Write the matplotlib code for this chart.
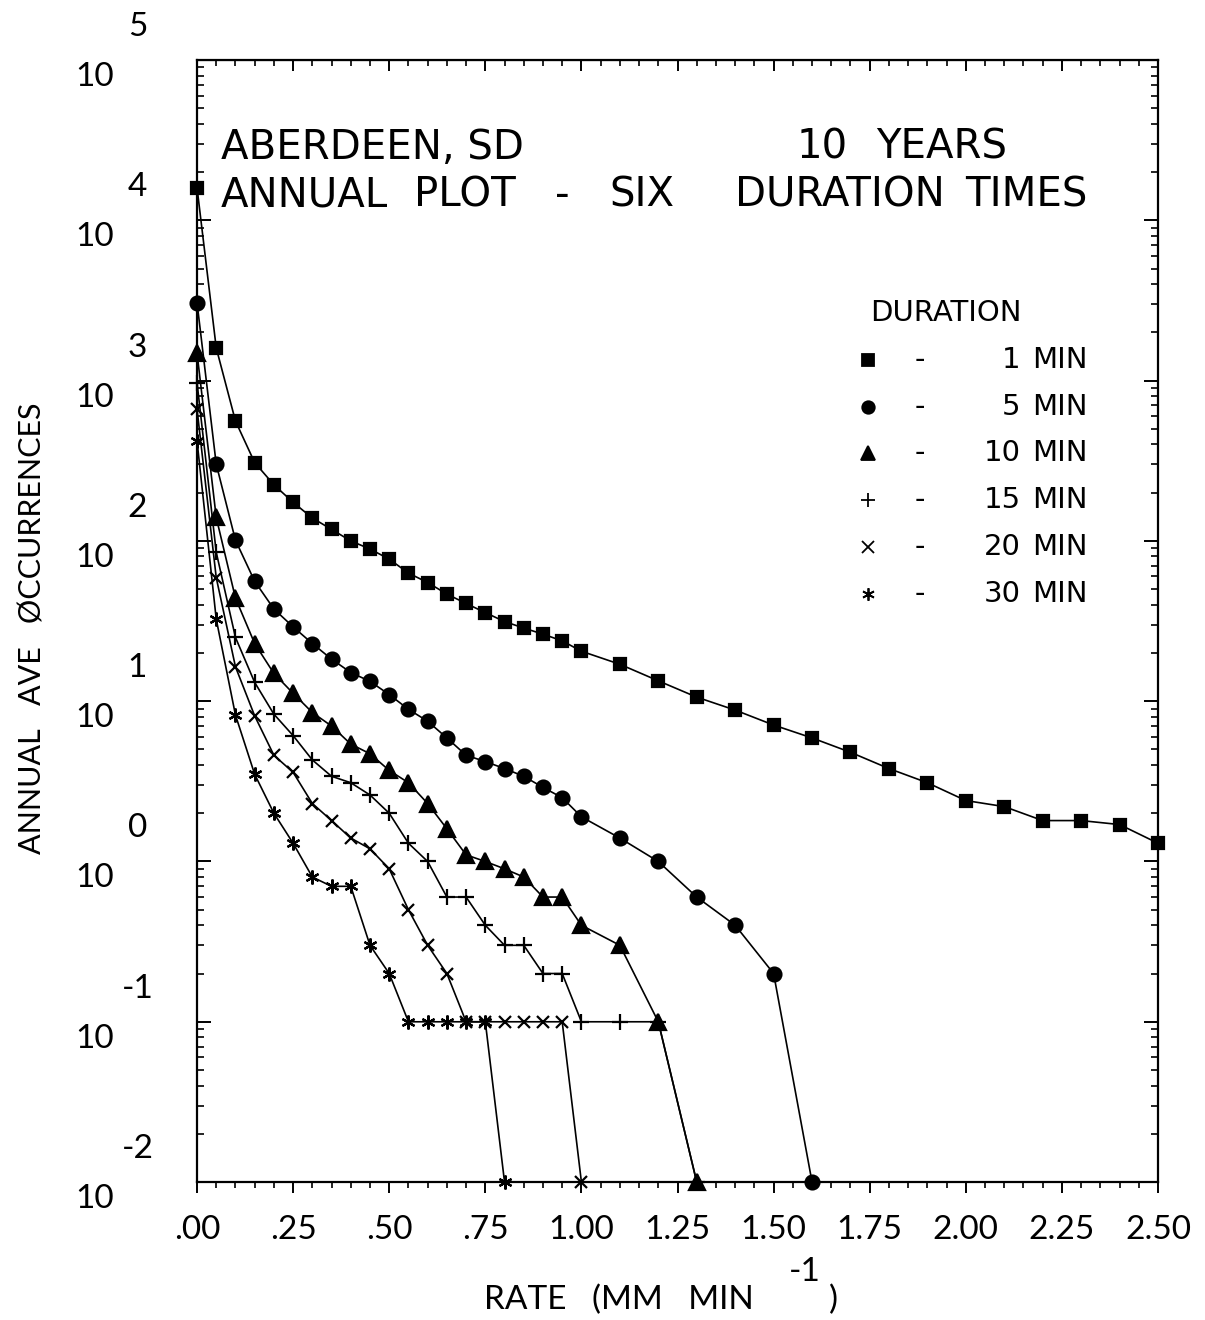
import numpy as np
import matplotlib.pyplot as plt
from matplotlib.ticker import MultipleLocator, LogLocator, NullFormatter
from matplotlib.transforms import ScaledTranslation

# rate grid (mm/min) - 0.05 steps up to 1.0, then 0.1 steps
rate = [0.00, 0.05, 0.10, 0.15, 0.20, 0.25, 0.30, 0.35, 0.40, 0.45, 0.50,
        0.55, 0.60, 0.65, 0.70, 0.75, 0.80, 0.85, 0.90, 0.95, 1.00,
        1.10, 1.20, 1.30, 1.40, 1.50, 1.60, 1.70, 1.80, 1.90, 2.00,
        2.10, 2.20, 2.30, 2.40, 2.50]

# annual average occurrences per duration (0 = none, drawn on the floor)
occ_1min = [16000, 1600, 560, 308, 224, 174, 139, 118, 100, 89, 77, 63, 55,
            46.6, 40.7, 35.7, 31.4, 28.6, 26.2, 23.8, 20.5,
            17.0, 13.4, 10.6, 8.8, 7.1, 5.9, 4.8, 3.8, 3.1, 2.4, 2.2, 1.8,
            1.8, 1.7, 1.3]
occ_5min = [3070, 301, 101, 56, 37.6, 29.1, 22.9, 18.3, 15.1, 13.3, 11.0,
            8.9, 7.5, 5.9, 4.6, 4.2, 3.8, 3.4, 2.9, 2.5, 1.9,
            1.4, 1.0, 0.6, 0.4, 0.2, 0]
occ_10min = [1490, 140, 44, 22.9, 14.9, 11.2, 8.5, 7.0, 5.4, 4.7, 3.7,
             3.1, 2.3, 1.6, 1.1, 1.0, 0.9, 0.8, 0.6, 0.6, 0.4,
             0.3, 0.1, 0]
occ_15min = [973, 85, 25, 13.1, 8.3, 6.1, 4.3, 3.4, 3.1, 2.6, 2.0,
             1.3, 1.0, 0.6, 0.6, 0.4, 0.3, 0.3, 0.2, 0.2, 0.1,
             0.1, 0.1, 0]
occ_20min = [664, 59, 16.4, 8.1, 4.6, 3.6, 2.3, 1.8, 1.4, 1.2, 0.9,
             0.5, 0.3, 0.2, 0.1, 0.1, 0.1, 0.1, 0.1, 0.1, 0]
occ_30min = [421, 32.5, 8.2, 3.5, 2.0, 1.3, 0.8, 0.7, 0.7, 0.3, 0.2,
             0.1, 0.1, 0.1, 0.1, 0.1, 0]

durations = ['1', '5', '10', '15', '20', '30']
series = [occ_1min, occ_5min, occ_10min, occ_15min, occ_20min, occ_30min]
markers = ['s', 'o', '^', '+', 'x', (6, 2, 0)]
msizes = [9, 10, 11, 11, 9, 10]

x_ticks = [0, 0.25, 0.5, 0.75, 1.0, 1.25, 1.5, 1.75, 2.0, 2.25, 2.5]
x_ticklabels = ['.00', '.25', '.50', '.75', '1.00', '1.25', '1.50',
                '1.75', '2.00', '2.25', '2.50']
y_exps = [-2, -1, 0, 1, 2, 3, 4, 5]
y_floor = 1e-2

thin = {'family': ['Lato', 'DejaVu Sans'], 'weight': 'normal', 'color': 'black'}
bold = {'family': ['DejaVu Sans']}

fig = plt.figure(figsize=(12.05, 13.2), dpi=100)
ax = fig.add_axes([0.1635, 0.1045, 0.7975, 0.85])

for vals, m, ms in zip(series, markers, msizes):
    ax.plot(rate[:len(vals)], np.clip(vals, y_floor, None), color='black',
            lw=1.2, marker=m, ms=ms, mew=1.6, clip_on=False)

ax.set_yscale('log')
ax.set_xlim(0, 2.5)
ax.set_ylim(y_floor, 1e5)

# x axis: ticks out at bottom, in at top
ax.set_xticks(x_ticks)
ax.set_xticklabels(x_ticklabels, fontsize=24, **thin)
ax.xaxis.set_minor_locator(MultipleLocator(0.05))
ax.tick_params(axis='x', which='major', direction='out', length=8, width=1.4, pad=16)
ax.tick_params(axis='x', which='minor', direction='out', length=4, width=1.2)

top = ax.secondary_xaxis('top')
top.set_xticks(x_ticks)
top.set_xticklabels([])
top.xaxis.set_minor_locator(MultipleLocator(0.05))
top.tick_params(which='major', direction='in', length=8, width=1.4)
top.tick_params(which='minor', direction='in', length=4, width=1.2)

# y axis: ticks in on both sides, labels "10" + big exponent
ax.set_yticks([10.0 ** e for e in y_exps])
ax.set_yticklabels(['10'] * len(y_exps), fontsize=24, **thin)
ax.yaxis.set_minor_locator(LogLocator(base=10, subs=range(2, 10)))
ax.yaxis.set_minor_formatter(NullFormatter())
ax.tick_params(axis='y', which='major', direction='in', length=10, width=1.4,
               right=True, pad=60)
ax.tick_params(axis='y', which='minor', direction='in', length=5, width=1.2,
               right=True)
for lab in ax.get_yticklabels():
    lab.set_transform(lab.get_transform() + ScaledTranslation(0, -0.14, fig.dpi_scale_trans))

exp_tr = ax.get_yaxis_transform() + ScaledTranslation(0, 0.33, fig.dpi_scale_trans)
for e in y_exps:
    ax.text(-0.062, 10.0 ** e, str(e), transform=exp_tr, ha='center',
            va='center', fontsize=24, **thin)

for s in ax.spines.values():
    s.set_linewidth(1.6)

# axis labels
fig.text(0.027, 0.524, 'ANNUAL   AVE   ØCCURRENCES', rotation=90, ha='center',
         va='center', fontsize=22, **thin)
fig.text(0.402, 0.015, 'RATE   (MM   MIN', ha='left', va='center', fontsize=24, **thin)
fig.text(0.668, 0.036, '-1', ha='center', va='center', fontsize=24, **thin)
fig.text(0.692, 0.015, ')', ha='center', va='center', fontsize=24, **thin)

# title block
ax.text(0.025, 0.922, 'ABERDEEN, SD', transform=ax.transAxes, ha='left',
        va='center', fontsize=29, **bold)
ax.text(0.624, 0.922, '10', transform=ax.transAxes, ha='left', va='center',
        fontsize=29, **bold)
ax.text(0.707, 0.922, 'YEARS', transform=ax.transAxes, ha='left', va='center',
        fontsize=29, **bold)
for word, xw in zip(['ANNUAL', 'PLOT', '-', 'SIX', 'DURATION', 'TIMES'],
                    [0.025, 0.226, 0.372, 0.429, 0.5595, 0.799]):
    ax.text(xw, 0.879, word, transform=ax.transAxes, ha='left', va='center',
            fontsize=29, **bold)

# legend drawn by hand
ax.text(0.700, 0.7745, 'DURATION', transform=ax.transAxes, ha='left',
        va='center', fontsize=21, **bold)
row_y = [0.7326, 0.6907, 0.6497, 0.6078, 0.5660, 0.5241]
for d, m, ms, yy in zip(durations, markers, msizes, row_y):
    ax.plot([0.698], [yy], transform=ax.transAxes, marker=m, ms=ms * 0.9,
            mew=1.3, color='black', ls='none', clip_on=False)
    ax.text(0.752, yy, '-', transform=ax.transAxes, ha='center', va='center',
            fontsize=21, **bold)
    ax.text(0.857, yy, d, transform=ax.transAxes, ha='right', va='center',
            fontsize=21, **bold)
    ax.text(0.869, yy, 'MIN', transform=ax.transAxes, ha='left', va='center',
            fontsize=21, **bold)

fig.savefig('out.png', dpi=100)
